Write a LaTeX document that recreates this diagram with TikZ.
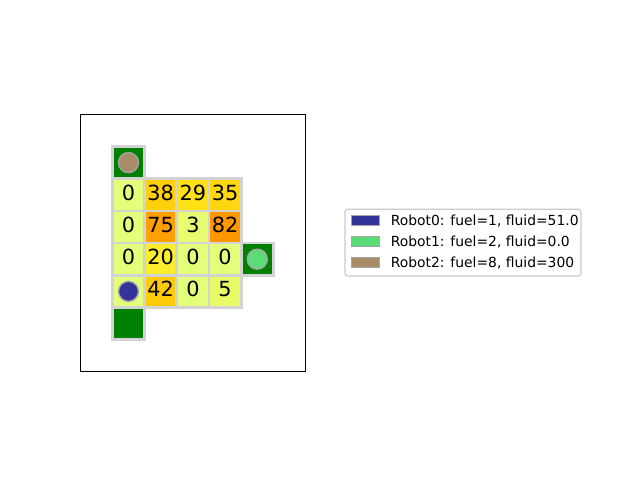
\documentclass[tikz,border=0pt]{standalone}
\usepackage{fontspec}
\setmainfont{DejaVu Sans}
\definecolor{lgray}{RGB}{211,211,211}
\definecolor{rgray}{RGB}{165,165,165}
\definecolor{fgreen}{RGB}{0,128,0}
\definecolor{v0}{RGB}{228,255,122}
\definecolor{v3}{RGB}{231,252,110}
\definecolor{v5}{RGB}{233,250,103}
\definecolor{v20}{RGB}{250,237,45}
\definecolor{v29}{RGB}{255,225,22}
\definecolor{v35}{RGB}{255,215,16}
\definecolor{v38}{RGB}{255,208,10}
\definecolor{v42}{RGB}{255,202,8}
\definecolor{v75}{RGB}{255,160,0}
\definecolor{v82}{RGB}{254,151,0}
\definecolor{rob0}{RGB}{51,51,153}
\definecolor{rob1}{RGB}{90,220,120}
\definecolor{rob2}{RGB}{168,140,104}
\begin{document}
\begin{tikzpicture}[x=0.72pt,y=-0.72pt,
 cellbox/.style={draw=lgray, line width=1.9pt, minimum size=23.18pt, inner sep=0pt,
   text height=11.4pt, text depth=3.45pt, font=\fontsize{15}{18}\selectfont},
 robot/.style={circle, draw=rgray, line width=1pt, minimum size=14.4pt, inner sep=0pt},
 patch/.style={draw=rgray, line width=0.5pt, minimum width=20.2pt, minimum height=7pt, inner sep=0pt},
 legtext/.style={anchor=base west, inner sep=0pt, font=\fontsize{10}{12}\selectfont}]
\useasboundingbox[fill=white] (0,0) rectangle (640,480);
\draw[line width=0.8pt] (80.2,114.3) rectangle (305.6,371.9);
% top depot
\node[cellbox, fill=fgreen] (g0) at (128.5,162.6) {};
% row 1
\node[cellbox, fill=v0]  (c10) at (128.5,194.8) {0};
\node[cellbox, fill=v38] (c11) at (160.7,194.8) {38};
\node[cellbox, fill=v29] (c12) at (192.9,194.8) {29};
\node[cellbox, fill=v35] (c13) at (225.1,194.8) {35};
% row 2
\node[cellbox, fill=v0]  (c20) at (128.5,227.0) {0};
\node[cellbox, fill=v75] (c21) at (160.7,227.0) {75};
\node[cellbox, fill=v3]  (c22) at (192.9,227.0) {3};
\node[cellbox, fill=v82] (c23) at (225.1,227.0) {82};
% row 3
\node[cellbox, fill=v0]  (c30) at (128.5,259.2) {0};
\node[cellbox, fill=v20] (c31) at (160.7,259.2) {20};
\node[cellbox, fill=v0]  (c32) at (192.9,259.2) {0};
\node[cellbox, fill=v0]  (c33) at (225.1,259.2) {0};
\node[cellbox, fill=fgreen] (g1) at (257.3,259.2) {};
% row 4
\node[cellbox, fill=v0]  (c40) at (128.5,291.4) {};
\node[cellbox, fill=v42] (c41) at (160.7,291.4) {42};
\node[cellbox, fill=v0]  (c42) at (192.9,291.4) {0};
\node[cellbox, fill=v5]  (c43) at (225.1,291.4) {5};
% bottom depot
\node[cellbox, fill=fgreen] (g2) at (128.5,323.6) {};
% robots
\node[robot, fill=rob2] (r2) at (g0.center) {};
\node[robot, fill=rob1] (r1) at (g1.center) {};
\node[robot, fill=rob0] (r0) at (c40.center) {};
% legend
\draw[draw=lgray!90!gray, line width=0.8pt, fill=white, rounded corners=2pt] (345,209.3) rectangle (581,276);
\node[patch, fill=rob0] (p0) at (365,220.7) {};
\node[patch, fill=rob1] (p1) at (365,241.4) {};
\node[patch, fill=rob2] (p2) at (365,262.1) {};
\node[legtext] (t0) at (390.5,225.7) {Robot0: fuel=1, fluid=51.0};
\node[legtext] (t1) at (390.5,246.4) {Robot1: fuel=2, fluid=0.0};
\node[legtext] (t2) at (390.5,267.1) {Robot2: fuel=8, fluid=300};
\end{tikzpicture}
\end{document}
